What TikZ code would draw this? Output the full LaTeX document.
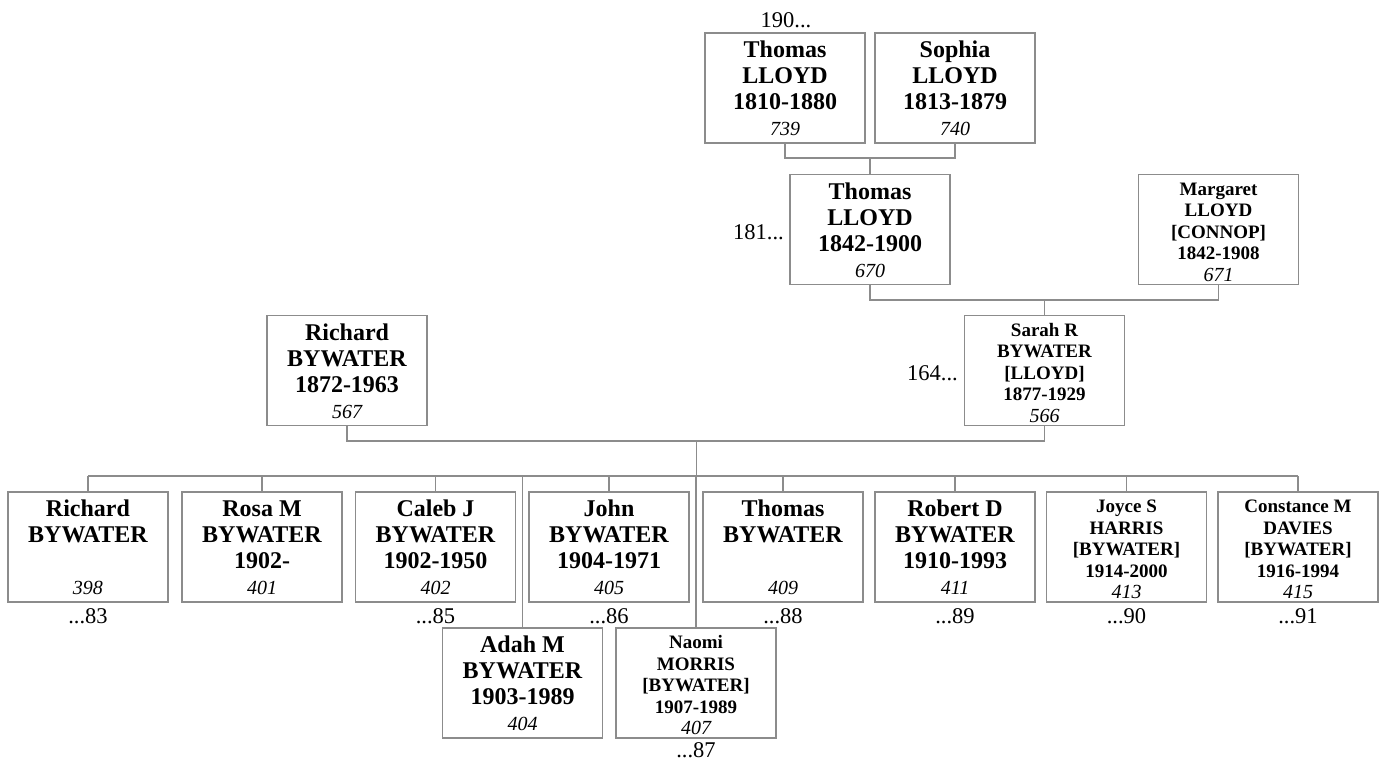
\documentclass[tikz,border=0pt]{standalone}
\usepackage{fontspec}
\setmainfont{Liberation Serif}
\definecolor{lc}{RGB}{140,140,140}
\newcommand\bigp[2]{\begin{minipage}[t][110pt][t]{160pt}\centering\fontsize{24}{26}\selectfont\bfseries\vspace*{6.3pt}\strut #1\\{\fontsize{20}{26}\selectfont\mdseries\itshape #2}\end{minipage}}
\newcommand\smallp[2]{\begin{minipage}[t][110pt][t]{160pt}\centering\fontsize{19}{21.5}\selectfont\bfseries\vspace*{5.45pt}\strut #1\\{\fontsize{20}{21.5}\selectfont\mdseries\itshape #2}\end{minipage}}
\tikzset{
  pbox/.style={draw=lc, line width=1.3pt, inner sep=0pt, outer sep=0pt},
  conn/.style={draw=lc, line width=1.3pt},
  lab/.style={font=\fontsize{22.5}{26}\selectfont, inner sep=0pt}
}
\begin{document}
\begin{tikzpicture}[x=1pt,y=-1pt]
\useasboundingbox (0,0) rectangle (1389,760);
% generation 1
\node[pbox] (p739) at (785,88) {\bigp{Thomas\\LLOYD\\1810-1880}{739}};
\node[pbox] (p740) at (955,88) {\bigp{Sophia\\LLOYD\\1813-1879}{740}};
% generation 2
\node[pbox] (p670) at (870,229.5) {\bigp{Thomas\\LLOYD\\1842-1900}{670}};
\node[pbox] (p671) at (1218.5,229.5) {\smallp{Margaret\\LLOYD\\{[CONNOP]}\\1842-1908}{671}};
% generation 3
\node[pbox] (p567) at (347,370.5) {\bigp{Richard\\BYWATER\\1872-1963}{567}};
\node[pbox] (p566) at (1044.5,370.5) {\smallp{Sarah R\\BYWATER\\{[LLOYD]}\\1877-1929}{566}};
% children
\node[pbox] (c398) at (88,547) {\bigp{Richard\\BYWATER\\\mbox{}}{398}};
\node[pbox] (c401) at (262,547) {\bigp{Rosa M\\BYWATER\\1902-}{401}};
\node[pbox] (c402) at (435.5,547) {\bigp{Caleb J\\BYWATER\\1902-1950}{402}};
\node[pbox] (c405) at (609,547) {\bigp{John\\BYWATER\\1904-1971}{405}};
\node[pbox] (c409) at (783,547) {\bigp{Thomas\\BYWATER\\\mbox{}}{409}};
\node[pbox] (c411) at (955,547) {\bigp{Robert D\\BYWATER\\1910-1993}{411}};
\node[pbox] (c413) at (1126.5,547) {\smallp{Joyce S\\HARRIS\\{[BYWATER]}\\1914-2000}{413}};
\node[pbox] (c415) at (1298,547) {\smallp{Constance M\\DAVIES\\{[BYWATER]}\\1916-1994}{415}};
\node[pbox] (c404) at (522.5,683) {\bigp{Adah M\\BYWATER\\1903-1989}{404}};
\node[pbox] (c407) at (696,683) {\smallp{Naomi\\MORRIS\\{[BYWATER]}\\1907-1989}{407}};
% connectors
\coordinate (j1) at (870,158);
\draw[conn] (p739.south) |- (j1) -| (p740.south);
\draw[conn] (j1) -- (p670.north);
\coordinate (j2) at (1044.5,300);
\draw[conn] (p670.south) |- (j2) -| (p671.south);
\draw[conn] (j2) -- (p566.north);
\coordinate (j3) at (696.5,441);
\draw[conn] (p567.south) |- (j3) -| (p566.south);
\coordinate (j4) at (696.5,476);
\draw[conn] (j3) -- (j4);
\draw[conn] (c398.north |- j4) -- (c415.north |- j4);
\foreach \c in {c398,c401,c402,c405,c409,c411,c413,c415,c404,c407}
  \draw[conn] (\c.north) -- (\c.north |- j4);
% labels
\node[lab, anchor=base] (l190) at (786,28) {190...};
\node[lab, anchor=base east] (l181) at (784,239) {181...};
\node[lab, anchor=base east] (l164) at (958,380) {164...};
\node[lab, anchor=base] (l83) at (88,623) {...83};
\node[lab, anchor=base] (l85) at (435.5,623) {...85};
\node[lab, anchor=base] (l86) at (609,623) {...86};
\node[lab, anchor=base] (l88) at (783,623) {...88};
\node[lab, anchor=base] (l89) at (955,623) {...89};
\node[lab, anchor=base] (l90) at (1126.5,623) {...90};
\node[lab, anchor=base] (l91) at (1298,623) {...91};
\node[lab, anchor=base] (l87) at (696,757) {...87};
\end{tikzpicture}
\end{document}
